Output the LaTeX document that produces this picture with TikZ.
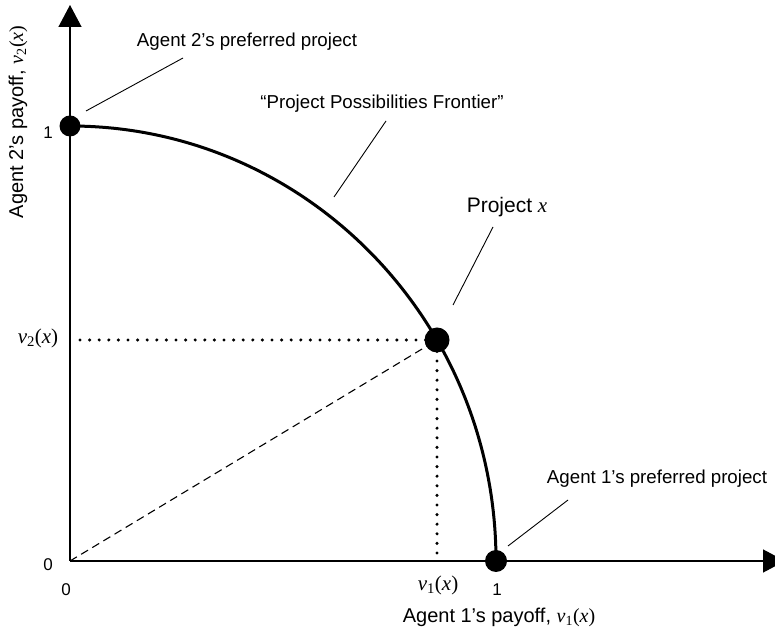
\documentclass[tikz,border=0pt]{standalone}
\usepackage{fontspec}
\setmainfont{Liberation Sans}
\newfontfamily\tms{Liberation Serif}
\usetikzlibrary{arrows.meta,calc,backgrounds}
\newcommand\vlab[1]{{\tms\textit{v}\textsubscript{#1}(\textit{x})}}
\begin{document}
\begin{tikzpicture}[x=1pt,y=1pt,
  axis/.style={line width=1.3pt,-{Triangle[length=22pt,width=23pt]}},
  frontier/.style={line width=3pt},
  dot/.style={circle,fill=black,inner sep=0pt},
  leader/.style={line width=0.9pt},
  guide/.style={line width=3.4pt,line cap=round,dash pattern=on 0pt off 9.6pt},
  ray/.style={line width=1.1pt,dash pattern=on 8pt off 5pt},
  lbl/.style={font=\fontsize{18.7}{22}\selectfont,inner sep=0pt},
  big/.style={font=\fontsize{21}{24}\selectfont,inner sep=0pt},
  axlbl/.style={font=\fontsize{20}{23}\selectfont,inner sep=0pt},
  tick/.style={font=\fontsize{17}{20}\selectfont,inner sep=0pt}]
\useasboundingbox (0,0) rectangle (775,636);
% key points
\coordinate (O) at (70,75);
\coordinate (Ytip) at (70,631);
\coordinate (Xtip) at (785,75);
\node[dot,minimum size=21pt] (d2) at (70,510) {};
\node[dot,minimum size=25pt] (dP) at (437,296) {};
\node[dot,minimum size=22pt] (d1) at (496,75) {};
\coordinate (gy) at (80,296);
\coordinate (gx) at (437,83);
% text
\node[lbl] (t2) at (247,594) {Agent 2’s preferred project};
\node[lbl] (tf) at (382,532) {“Project Possibilities Frontier”};
\node[big] (tp) at (507,429) {Project {\tms\itshape x}};
\node[lbl] (t1) at (657,157) {Agent 1’s preferred project};
\node[big] (v2l) at (38,298) {\vlab{2}};
\node[big] (v1l) at (438,51) {\vlab{1}};
\node[axlbl] (xl) at (499,19) {Agent 1’s payoff, \vlab{1}};
\node[axlbl,rotate=90] (yl) at (18,514) {Agent 2’s payoff, \vlab{2}};
\node[tick] (k1y) at (48,503) {1};
\node[tick] (k0y) at (48,71) {0};
\node[tick] (k0x) at (66,46) {0};
\node[tick] (k1x) at (497,46) {1};
% leader ends
\coordinate (l2a) at (86,525);
\coordinate (l2b) at (183,578);
\coordinate (lfa) at (334,439);
\coordinate (lfb) at (386,515);
\coordinate (lpa) at (453,331);
\coordinate (lpb) at (493,409);
\coordinate (l1a) at (508,90);
\coordinate (l1b) at (568,136);
\begin{pgfonlayer}{background}
\draw[axis] (O) -- (Ytip);
\draw[axis] (O) -- (Xtip);
\draw[ray] (O) -- (dP.center);
\draw[guide] (gy) -- (dP.center);
\draw[guide] (gx) -- (dP.center);
\draw[frontier] (d2.center) arc[start angle=90,end angle=0,x radius=426pt,y radius=435pt];
\end{pgfonlayer}
\draw[leader] (l2a) -- (l2b);
\draw[leader] (lfa) -- (lfb);
\draw[leader] (lpa) -- (lpb);
\draw[leader] (l1a) -- (l1b);
\end{tikzpicture}
\end{document}
